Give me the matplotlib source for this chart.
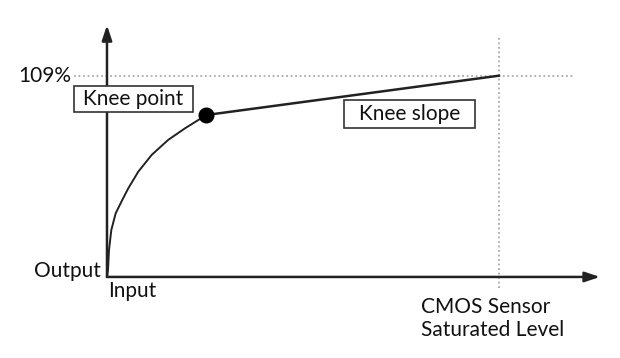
import matplotlib
matplotlib.use("Agg")
import matplotlib.pyplot as plt
from matplotlib.patches import Rectangle

# Data (input in % of CMOS saturated level, output in %)
curve_x = [0, 0.26, 0.51, 1.10, 2.22, 3.90, 5.43, 7.98, 11.4, 15.6, 19.9, 23.3, 25.3]
curve_y = [0, 3.8, 14.6, 25.4, 34.5, 41.7, 48.0, 57.0, 66.1, 74.2, 80.5, 85.0, 87.7]
knee_x, knee_y = 25.3, 87.7
slope_x = [25.3, 100]
slope_y = [87.7, 109]
sat_level = 100
max_output = 109

plt.rcParams['font.family'] = ['Lato', 'DejaVu Sans']

fig = plt.figure(figsize=(6.2, 3.58), dpi=100)
ax = fig.add_axes([0, 0, 1, 1])
ax.set_xlim(-27.3, 130.9)
ax.set_ylim(-43.9, 150.0)
ax.axis('off')

ink = '#222222'
dot_c = '#aaaaaa'

# dotted reference lines
ax.plot([-8.4, 119.4], [max_output, max_output], linestyle=(0, (1, 1.5)), color=dot_c, lw=1.3)
ax.plot([sat_level, sat_level], [-6.0, 130], linestyle=(0, (1, 1.5)), color=dot_c, lw=1.3)

# axes arrows
ax.annotate('', xy=(125.8, 0), xytext=(0, 0),
            arrowprops=dict(arrowstyle='-|>,head_length=0.9,head_width=0.3', lw=1.8,
                            color=ink, shrinkA=0, shrinkB=0))
ax.annotate('', xy=(0, 136.4), xytext=(0, 0),
            arrowprops=dict(arrowstyle='-|>,head_length=0.9,head_width=0.3', lw=1.8,
                            color=ink, shrinkA=0, shrinkB=0))

# curve
ax.plot(curve_x, curve_y, color=ink, lw=1.4, solid_capstyle='round', solid_joinstyle='round')
ax.plot(slope_x, slope_y, color=ink, lw=1.8)
ax.plot([knee_x], [knee_y], 'o', color='black', markersize=10.5, zorder=5)

fs = 15
# label boxes
ax.add_patch(Rectangle((-8.4, 89.3), 30.3, 14.1, fc='white', ec='#333333', lw=1.2, zorder=6))
ax.add_patch(Rectangle((60.5, 80.7), 33.4, 15.1, fc='white', ec='#333333', lw=1.2, zorder=6))
ax.text(6.75, 96.2, 'Knee point', fontsize=fs, ha='center', va='center', color='#111', zorder=7)
ax.text(77.2, 88.0, 'Knee slope', fontsize=fs, ha='center', va='center', color='#111', zorder=7)

ax.text(-9.2, max_output, '109%', fontsize=fs, ha='right', va='center', color='#111')
ax.text(-1.5, 3.2, 'Output', fontsize=fs, ha='right', va='center', color='#111')
ax.text(0.3, -7.6, 'Input', fontsize=fs, ha='left', va='center', color='#111')
ax.text(80.1, -16.3, 'CMOS Sensor', fontsize=fs, ha='left', va='center', color='#111')
ax.text(80.1, -28.8, 'Saturated Level', fontsize=fs, ha='left', va='center', color='#111')

fig.savefig('out.png', dpi=100)
